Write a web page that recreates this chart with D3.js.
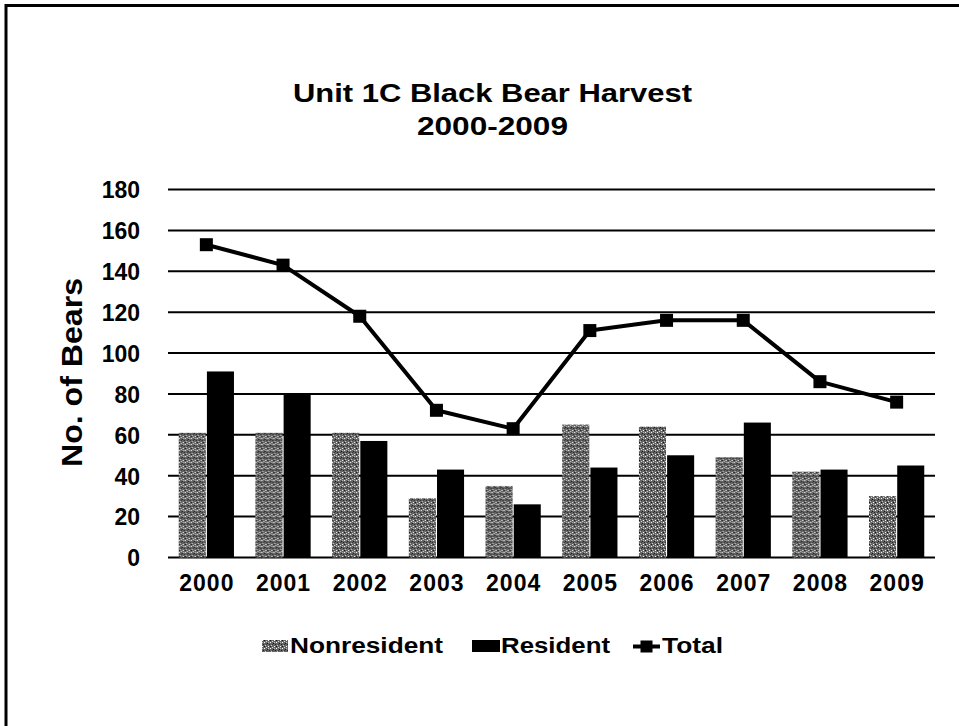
<!DOCTYPE html>
<html>
<head>
<meta charset="utf-8">
<script src="https://cdn.jsdelivr.net/npm/d3@7"></script>
<style>
  html, body { margin: 0; padding: 0; background: #fff; }
  svg { display: block; }
  text { font-family: "Liberation Sans", Arial, sans-serif; font-weight: bold; fill: #000; }
</style>
</head>
<body>
<svg id="chart" width="959" height="726"></svg>
<script>
const years = ["2000","2001","2002","2003","2004","2005","2006","2007","2008","2009"];
const nonresident = [61, 61, 61, 29, 35, 65, 64, 49, 42, 30];
const resident    = [91, 80, 57, 43, 26, 44, 50, 66, 43, 45];
const total       = [153, 143, 118, 72, 63, 111, 116, 116, 86, 76];
const yTicks = [0, 20, 40, 60, 80, 100, 120, 140, 160, 180];
const seriesNames = ["Nonresident", "Resident"];

const svg = d3.select("#chart");

// stipple pattern for nonresident bars
const defs = svg.append("defs");
const pat = defs.append("pattern").attr("id", "stip")
  .attr("patternUnits", "userSpaceOnUse").attr("width", 6).attr("height", 6);
pat.append("rect").attr("width", 6).attr("height", 6).attr("fill", "#666");
const dots = [[0,0,"#fff"],[3,1,"#111"],[1,3,"#ccc"],[4,4,"#fff"],[5,2,"#222"],[2,5,"#ddd"],[0,4,"#111"],[4,0,"#bbb"],[2,2,"#333"]];
dots.forEach(d => pat.append("rect").attr("x", d[0]).attr("y", d[1]).attr("width", 1).attr("height", 1).attr("fill", d[2]));

// page border (top and left)
svg.append("line").attr("x1", 5).attr("x2", 959).attr("y1", 5.5).attr("y2", 5.5).attr("stroke", "#000").attr("stroke-width", 3);
svg.append("line").attr("x1", 6).attr("x2", 6).attr("y1", 4).attr("y2", 726).attr("stroke", "#000").attr("stroke-width", 3);

const plotLeft = 168, plotRight = 935, plotTop = 189.5, plotBottom = 557.5;

const x0 = d3.scaleBand().domain(years).range([plotLeft, plotRight]).paddingInner(0.28).paddingOuter(0.14);
const x1 = d3.scaleBand().domain(seriesNames).range([0, x0.bandwidth()]).paddingInner(0.04);
const y = d3.scaleLinear().domain([0, 180]).range([plotBottom, plotTop]);

// gridlines
svg.append("g").selectAll("line").data(yTicks).join("line")
  .attr("x1", plotLeft).attr("x2", plotRight)
  .attr("y1", d => y(d)).attr("y2", d => y(d))
  .attr("stroke", "#000").attr("stroke-width", 2);

// y axis labels
const yAxis = d3.axisLeft(y).tickValues(yTicks).tickSize(0).tickPadding(0);
const gy = svg.append("g").attr("transform", "translate(140,0)").call(yAxis);
gy.select(".domain").remove();
gy.selectAll("text")
  .attr("font-size", 23)
  .attr("font-family", "Liberation Sans, Arial, sans-serif").attr("font-weight", "bold")
  .attr("dy", "0.36em").attr("fill", "#000");

// x axis labels
const xAxis = d3.axisBottom(x0).tickSize(0).tickPadding(0);
const gx = svg.append("g").attr("transform", "translate(0,575)").call(xAxis);
gx.select(".domain").remove();
gx.selectAll("text")
  .attr("font-size", 23).attr("letter-spacing", "1px")
  .attr("font-family", "Liberation Sans, Arial, sans-serif").attr("font-weight", "bold")
  .attr("dx", "0.5px").attr("dy", "0.71em").attr("fill", "#000");

// bars
const groups = svg.append("g").selectAll("g").data(years).join("g")
  .attr("transform", d => `translate(${x0(d)},0)`);
groups.append("rect")
  .attr("x", x1("Nonresident")).attr("width", x1.bandwidth())
  .attr("y", (d, i) => y(nonresident[i])).attr("height", (d, i) => y(0) - y(nonresident[i]))
  .attr("fill", "url(#stip)");
groups.append("rect")
  .attr("x", x1("Resident")).attr("width", x1.bandwidth())
  .attr("y", (d, i) => y(resident[i])).attr("height", (d, i) => y(0) - y(resident[i]))
  .attr("fill", "#000");

// total line
const cx = d => x0(d) + x0.bandwidth() / 2;
const line = d3.line().x((d, i) => cx(years[i])).y(d => y(d));
svg.append("path").datum(total).attr("d", line)
  .attr("fill", "none").attr("stroke", "#000").attr("stroke-width", 4).attr("stroke-linejoin", "round");
svg.append("g").selectAll("rect").data(total).join("rect")
  .attr("x", (d, i) => cx(years[i]) - 6.5).attr("y", d => y(d) - 6.5)
  .attr("width", 13).attr("height", 13).attr("fill", "#000");

// title
svg.append("text").attr("x", 492.5).attr("y", 102).attr("text-anchor", "middle")
  .attr("font-size", 26).attr("textLength", 399).attr("lengthAdjust", "spacingAndGlyphs")
  .text("Unit 1C Black Bear Harvest");
svg.append("text").attr("x", 492.5).attr("y", 135).attr("text-anchor", "middle")
  .attr("font-size", 26).attr("textLength", 151).attr("lengthAdjust", "spacingAndGlyphs")
  .text("2000-2009");

// y title
svg.append("text").attr("transform", "translate(82,372.5) rotate(-90)").attr("text-anchor", "middle")
  .attr("font-size", 29).attr("textLength", 189).attr("lengthAdjust", "spacingAndGlyphs")
  .text("No. of Bears");

// legend
const lg = svg.append("g");
lg.append("rect").attr("x", 262).attr("y", 640).attr("width", 26).attr("height", 12).attr("fill", "url(#stip)");
lg.append("text").attr("x", 290).attr("y", 653).attr("font-size", 22)
  .attr("textLength", 153).attr("lengthAdjust", "spacingAndGlyphs").text("Nonresident");
lg.append("rect").attr("x", 472).attr("y", 640).attr("width", 28).attr("height", 12).attr("fill", "#000");
lg.append("text").attr("x", 501).attr("y", 653).attr("font-size", 22)
  .attr("textLength", 109).attr("lengthAdjust", "spacingAndGlyphs").text("Resident");
lg.append("line").attr("x1", 633).attr("x2", 660).attr("y1", 646.5).attr("y2", 646.5).attr("stroke", "#000").attr("stroke-width", 4);
lg.append("rect").attr("x", 640.5).attr("y", 640.5).attr("width", 12).attr("height", 12).attr("fill", "#000");
lg.append("text").attr("x", 662).attr("y", 653).attr("font-size", 22)
  .attr("textLength", 61).attr("lengthAdjust", "spacingAndGlyphs").text("Total");
</script>
</body>
</html>
